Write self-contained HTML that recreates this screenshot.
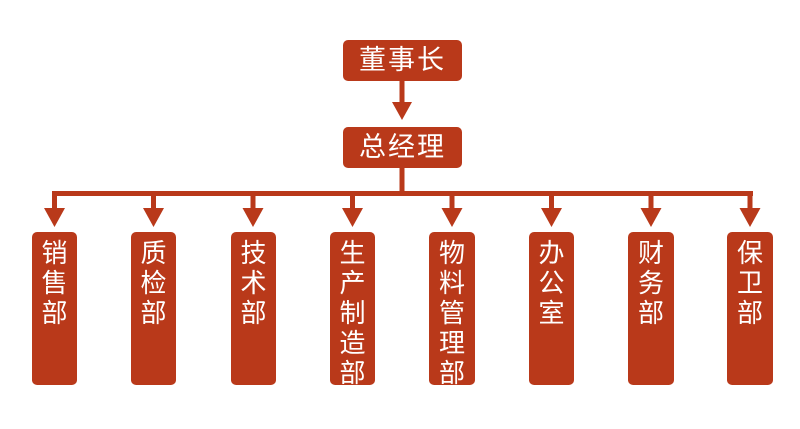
<!DOCTYPE html>
<html><head><meta charset="utf-8"><style>
html,body{margin:0;padding:0;background:#fff;}
.w{position:relative;width:800px;height:429px;overflow:hidden;font-family:"Liberation Sans","Noto Sans CJK SC",sans-serif;}
.b{position:absolute;background:#b9391a;border-radius:5px;color:#fff;text-align:center;}
.h{font-size:27px;line-height:41px;letter-spacing:2px;}
.v{font-size:26px;line-height:30px;padding-top:6px;box-sizing:border-box;}
</style></head><body><div class="w">
<div class="b h" style="left:343px;top:40px;width:119px;height:41px;">董事长</div>
<div class="b h" style="left:343px;top:127px;width:119px;height:41px;">总经理</div>
<svg style="position:absolute;left:0;top:0" width="800" height="429">
<g fill="#b9391a">
<rect x="399.5" y="81" width="5" height="24"/><polygon points="392,102 412,102 402,120"/>
<rect x="399.5" y="168" width="5" height="27"/>
<rect x="52" y="191" width="701" height="5"/>
</g>
<g fill="#b9391a" id="a">
<rect x="52" y="191" width="5" height="20"/><polygon points="44,208 65,208 54.5,227"/>
</g>
<use href="#a" x="99"/><use href="#a" x="198.5"/><use href="#a" x="298"/><use href="#a" x="397.5"/><use href="#a" x="497"/><use href="#a" x="596.5"/><use href="#a" x="695.5"/>
</svg>
<div class="b v" style="left:32px;top:232px;width:45px;height:153px;">销<br>售<br>部</div>
<div class="b v" style="left:131px;top:232px;width:45px;height:153px;">质<br>检<br>部</div>
<div class="b v" style="left:231px;top:232px;width:45px;height:153px;">技<br>术<br>部</div>
<div class="b v" style="left:330px;top:232px;width:45px;height:153px;">生<br>产<br>制<br>造<br>部</div>
<div class="b v" style="left:429px;top:232px;width:46px;height:153px;">物<br>料<br>管<br>理<br>部</div>
<div class="b v" style="left:529px;top:232px;width:45px;height:153px;">办<br>公<br>室</div>
<div class="b v" style="left:628px;top:232px;width:46px;height:153px;">财<br>务<br>部</div>
<div class="b v" style="left:727px;top:232px;width:46px;height:153px;">保<br>卫<br>部</div>
</div></body></html>
